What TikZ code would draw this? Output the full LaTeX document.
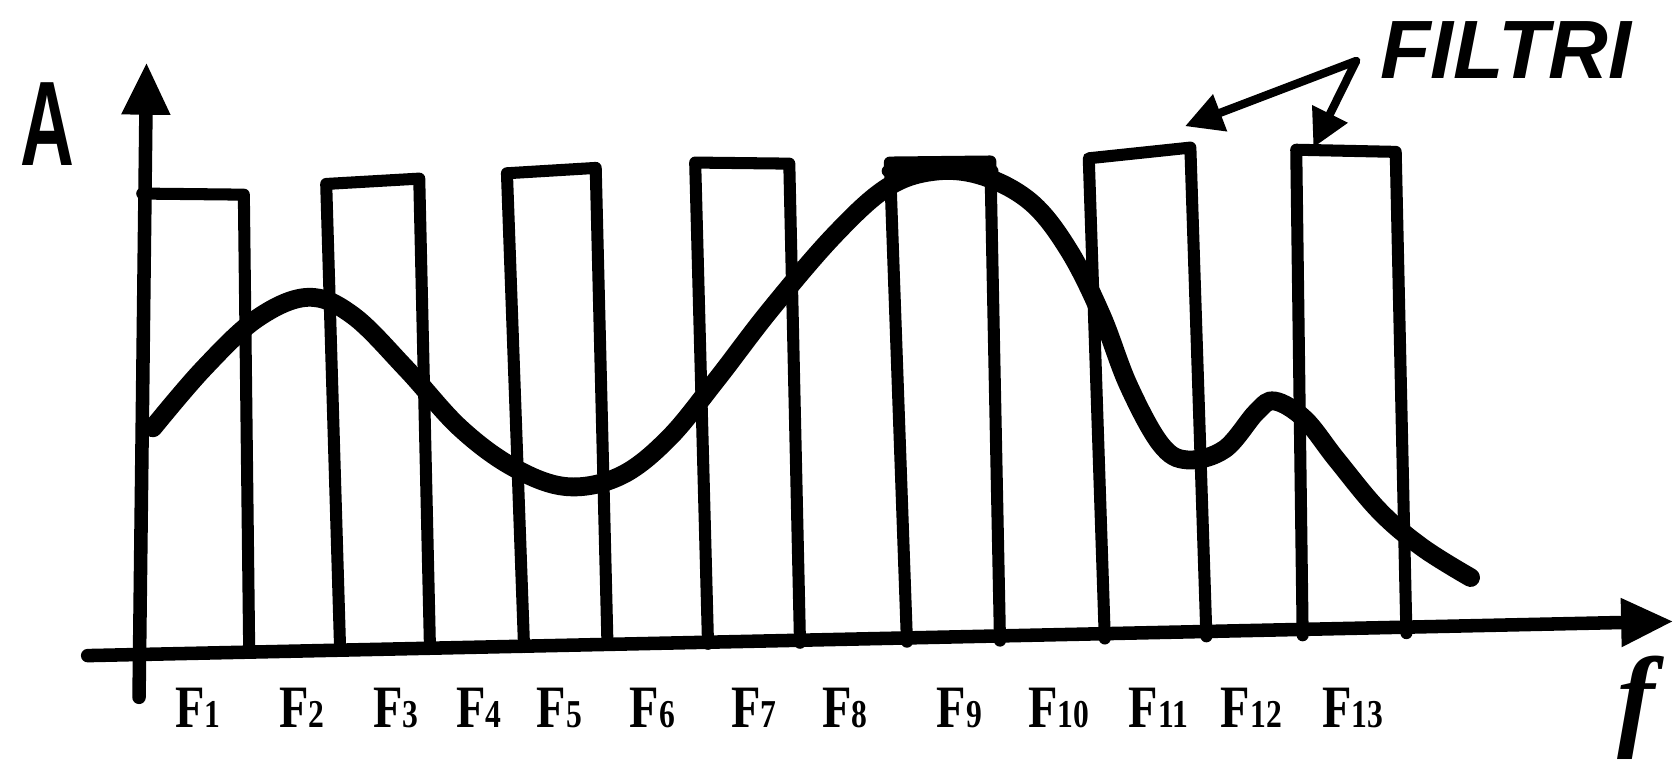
\documentclass[tikz,border=0pt]{standalone}
\usepackage{fontspec}
\usepackage{graphicx}
\setmainfont{Liberation Serif}
\newfontfamily\handfont{Liberation Sans}
\usetikzlibrary{arrows.meta}

\newcommand{\flab}[1]{\scalebox{0.8}[1]{\fontsize{16}{16}\selectfont\bfseries F\fontsize{10.5}{10.5}\selectfont #1}}

\tikzset{
  axisline/.style={line width=3.6pt, line cap=round, -{Triangle[length=14pt,width=12pt]}},
  barline/.style={line width=3.2pt, line join=round, line cap=round},
  curveline/.style={line width=5pt, line cap=round},
  pointer/.style={line width=2.2pt, line cap=round, -{Triangle[length=10pt,width=10pt]}},
  freqlabel/.style={anchor=base, inner sep=0pt}
}

\begin{document}
\begin{tikzpicture}[x=0.01cm, y=-0.01cm]
  \useasboundingbox (0,0) rectangle (1568,721);
  % axes
  \draw[axisline] (130,652) -- (137,58);
  \node[inner sep=0pt] (A) at (44,116) {\scalebox{0.62}[1]{\handfont\bfseries\fontsize{32}{32}\selectfont A}};
  \draw[axisline] (82,613) -- (1565,581);
  \node[inner sep=0pt] (f) at (1530,662) {\fontsize{30}{30}\selectfont\bfseries\itshape f};
  % filters
  \draw[barline] (133,181) -- (228,182) -- (233,608);
  \draw[barline] (318,607) -- (305,172) -- (392,167) -- (402,605);
  \draw[barline] (490,605) -- (474,162) -- (557,157) -- (568,603);
  \draw[barline] (662,602) -- (650,152) -- (738,153) -- (748,601);
  \draw[barline] (848,600) -- (832,152) -- (926,151) -- (935,599);
  \draw[barline] (830,160) -- (928,160);
  \draw[barline] (1033,597) -- (1018,148) -- (1113,138) -- (1128,595);
  \draw[barline] (1218,594) -- (1212,140) -- (1305,142) -- (1315,592);
  % spectrum
  \draw[curveline] plot[smooth, tension=0.6] coordinates {
    (143,400) (190,345) (240,298) (288,278) (330,295) (380,345)
    (430,400) (480,437) (530,455) (580,445) (625,410) (670,355)
    (720,290) (780,220) (830,175) (875,160) (920,165) (965,190)
    (1000,235) (1030,295) (1055,360) (1085,415) (1110,430) (1145,420)
    (1175,385) (1192,375) (1220,392) (1250,430) (1290,478) (1330,512)
    (1375,540)};
  % labels
  \foreach \i/\x in {1/185,2/282,3/370,4/448,5/523,6/610,7/705,8/790,
                     9/897,10/990,11/1083,12/1170,13/1265}
    \node[freqlabel] (F\i) at (\x,680) {\flab{\i}};
  \node[inner sep=0pt, anchor=west] (filtri) at (1290,47)
    {\handfont\bfseries\itshape\fontsize{22}{22}\selectfont FILTRI};
  \coordinate (fork) at (1268,57);
  \coordinate (tipL) at (1108,118);
  \coordinate (tipR) at (1228,138);
  \draw[pointer] (fork) -- (tipL);
  \draw[pointer] (fork) -- (tipR);
\end{tikzpicture}
\end{document}
